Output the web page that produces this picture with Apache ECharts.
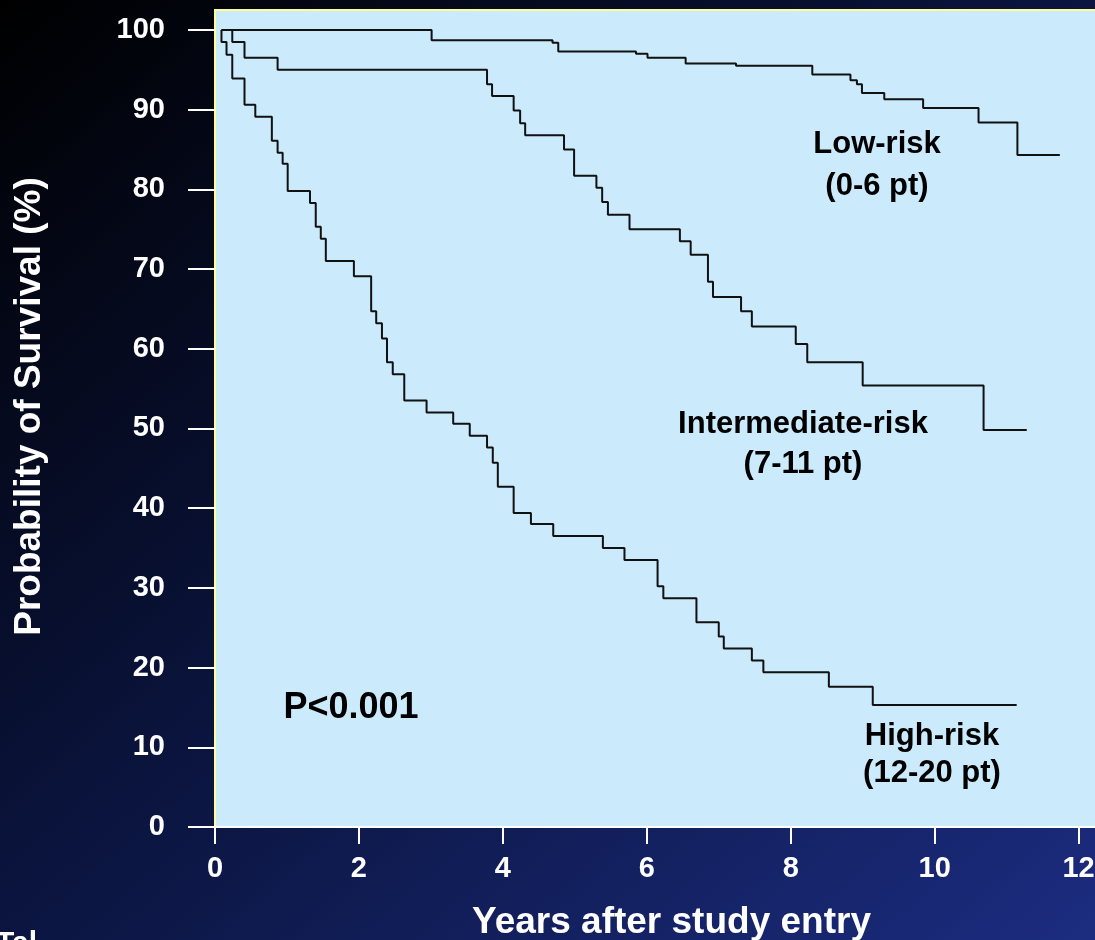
<!DOCTYPE html>
<html>
<head>
<meta charset="utf-8">
<title>Probability of Survival by risk group</title>
<script src="https://cdn.jsdelivr.net/npm/echarts@6/dist/echarts.min.js"></script>
<style>
  html, body { margin: 0; padding: 0; }
  #content {
    width: 1095px;
    height: 940px;
    background: linear-gradient(to bottom right, #000000 0%, #0b1540 50%, #1c2c80 100%);
  }
</style>
</head>
<body>
<div id="content"></div>
<script>
// tick labels
let xTicks = [0, 2, 4, 6, 8, 10, 12];
let yTicks = [0, 10, 20, 30, 40, 50, 60, 70, 80, 90, 100];

// Kaplan-Meier steps: [years, survival %]
let lowRisk = [
  [0.09, 100], [3.01, 98.7], [4.69, 98.4], [4.77, 97.3], [5.85, 97.0],
  [6.01, 96.5], [6.54, 95.8], [7.24, 95.5], [8.30, 94.4], [8.83, 93.7],
  [8.92, 93.2], [8.99, 92.1], [9.30, 91.3], [9.84, 90.2], [10.61, 88.4],
  [11.15, 84.3], [11.74, 84.3],
];
let intermediateRisk = [
  [0.09, 100], [0.24, 98.5], [0.41, 96.5], [0.87, 95.0], [3.78, 93.2],
  [3.85, 91.7], [4.15, 89.9], [4.24, 88.3], [4.31, 86.8], [4.85, 85.0],
  [4.99, 81.7], [5.30, 80.2], [5.38, 78.4], [5.46, 76.8], [5.76, 75.0],
  [6.46, 73.5], [6.61, 71.8], [6.85, 68.4], [6.92, 66.5], [7.31, 64.7],
  [7.46, 62.8], [8.07, 60.6], [8.23, 58.3], [9.00, 55.4], [10.68, 49.8],
  [11.28, 49.8],
];
let highRisk = [
  [0.09, 100], [0.09, 98.5], [0.16, 96.9], [0.24, 93.9], [0.41, 90.6],
  [0.56, 89.1], [0.79, 86.1], [0.87, 84.6], [0.94, 83.2], [1.01, 79.8],
  [1.32, 78.3], [1.40, 75.3], [1.47, 73.8], [1.54, 71.0], [1.93, 69.1],
  [2.17, 64.7], [2.24, 63.2], [2.32, 61.3], [2.39, 58.3], [2.47, 56.8],
  [2.63, 53.5], [2.94, 52.0], [3.31, 50.6], [3.54, 49.1], [3.78, 47.6],
  [3.86, 45.7], [3.93, 42.7], [4.15, 39.4], [4.39, 38.0], [4.70, 36.5],
  [5.39, 35.0], [5.69, 33.5], [6.15, 30.2], [6.23, 28.7], [6.69, 25.7],
  [7.00, 23.9], [7.07, 22.4], [7.46, 20.9], [7.62, 19.4], [8.53, 17.6],
  [9.14, 15.3], [11.14, 15.3],
];

let font = "'Liberation Sans', Arial, sans-serif";

let stepSeries = (name, data) => {
  return {
    name: name,
    type: "line",
    step: "end",
    data: data,
    showSymbol: false,
    silent: true,
    lineStyle: {
      color: "#111111",
      width: 2,
    },
  };
};

// two-line curve labels and the p value
let curveLabel = (x, y, text, lineHeight) => {
  return {
    type: "text",
    x: x,
    y: y,
    style: {
      text: text,
      fill: "#000000",
      font: "bold 31px " + font,
      align: "center",
      verticalAlign: "middle",
      lineHeight: lineHeight,
    },
  };
};

let myChart = echarts.init(document.getElementById("content"));
myChart.setOption({
  animation: false,
  grid: {
    left: 215,
    right: -3,
    top: 10,
    bottom: 113,
    outerBoundsMode: "none",
    show: true,
    backgroundColor: "#cbebfd",
    borderColor: "#ffff99",
    borderWidth: 2,
  },
  xAxis: {
    type: "value",
    min: 0,
    max: 12.27,
    name: "Years after study entry",
    nameLocation: "middle",
    nameGap: 77,
    nameTextStyle: {
      color: "#ffffff",
      fontSize: 37,
      fontWeight: "bold",
      fontFamily: font,
      padding: [0, 0, 0, 30],
    },
    splitLine: { show: false },
    axisLine: {
      show: true,
      lineStyle: { color: "#ffffff", width: 2 },
    },
    axisTick: {
      show: true,
      length: 17,
      customValues: xTicks,
      lineStyle: { color: "#ffffff", width: 2 },
    },
    axisLabel: {
      customValues: xTicks,
      color: "#ffffff",
      fontSize: 29,
      fontWeight: "bold",
      fontFamily: font,
      margin: 27,
    },
  },
  yAxis: {
    type: "value",
    min: 0,
    max: 102.5,
    name: "Probability of Survival (%)",
    nameLocation: "middle",
    nameRotate: 90,
    nameGap: 167,
    nameTextStyle: {
      color: "#ffffff",
      fontSize: 37,
      fontWeight: "bold",
      fontFamily: font,
      padding: [0, 0, 0, 24],
    },
    splitLine: { show: false },
    axisLine: { show: false },
    axisTick: {
      show: true,
      length: 27,
      customValues: yTicks,
      lineStyle: { color: "#ffffff", width: 2 },
    },
    axisLabel: {
      customValues: yTicks,
      color: "#ffffff",
      fontSize: 29,
      fontWeight: "bold",
      fontFamily: font,
      margin: 50,
    },
  },
  graphic: [
    curveLabel(877, 165, "Low-risk\n(0-6 pt)", 42),
    curveLabel(803, 444, "Intermediate-risk\n(7-11 pt)", 40),
    curveLabel(932, 755, "High-risk\n(12-20 pt)", 37),
    {
      type: "text",
      x: 351,
      y: 708,
      style: {
        text: "P<0.001",
        fill: "#000000",
        font: "bold 36px " + font,
        align: "center",
        verticalAlign: "middle",
      },
    },
    {
      type: "text",
      x: -4,
      y: 929,
      style: {
        text: "Tal",
        fill: "#ffffff",
        font: "bold 30px " + font,
        align: "left",
        verticalAlign: "top",
      },
    },
  ],
  series: [
    stepSeries("Low-risk", lowRisk),
    stepSeries("Intermediate-risk", intermediateRisk),
    stepSeries("High-risk", highRisk),
  ],
});
window.addEventListener("resize", function () {
  myChart.resize();
});
</script>
</body>
</html>
